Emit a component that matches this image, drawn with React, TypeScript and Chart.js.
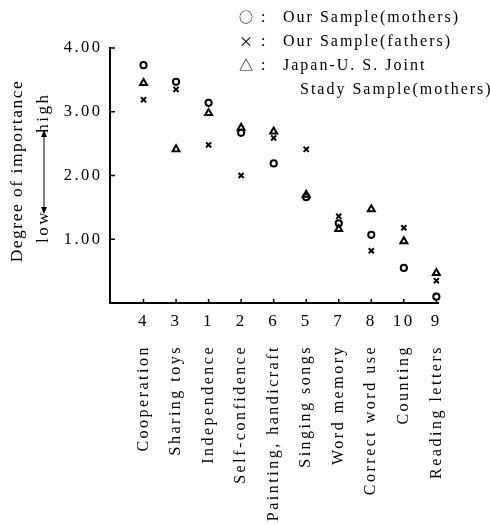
import React, { useEffect, useRef } from 'react';
import { Chart, registerables } from 'chart.js';

Chart.register(...registerables);

const codes = ['4', '3', '1', '2', '6', '5', '7', '8', '10', '9'];
const items = [
  'Cooperation',
  'Sharing toys',
  'Independence',
  'Self-confidence',
  'Painting, handicraft',
  'Singing songs',
  'Word memory',
  'Correct word use',
  'Counting',
  'Reading letters',
];
const mothers = [3.73, 3.47, 3.14, 2.67, 2.19, 1.66, 1.25, 1.07, 0.55, 0.1];
const fathers = [3.19, 3.35, 2.48, 2.0, 2.59, 2.41, 1.36, 0.82, 1.18, 0.35];
const joint = [3.45, 2.41, 2.98, 2.75, 2.69, 1.7, 1.16, 1.47, 0.97, 0.47];
const yTicks = [1, 2, 3, 4];
const legendSymbols = ['○', '×', '△'];
const legendTexts = [
  ['Our Sample(mothers)'],
  ['Our Sample(fathers)'],
  ['Japan-U. S. Joint', 'Stady Sample(mothers)'],
];
const yTitle = 'Degree of importance';
const lowLabel = 'low';
const highLabel = 'high';

const SERIF = '"Liberation Serif", "Times New Roman", serif';
const SPACING = '2.5px';

const spacingPlugin = {
  id: 'spacing',
  beforeLayout(chart: any) {
    chart.ctx.letterSpacing = SPACING;
  },
  beforeDraw(chart: any) {
    chart.ctx.letterSpacing = SPACING;
  },
};

const inwardTicks = {
  id: 'inwardTicks',
  afterDraw(chart: any) {
    const { ctx, chartArea, scales } = chart;
    ctx.save();
    ctx.strokeStyle = '#000';
    ctx.lineWidth = 1.5;
    ctx.beginPath();
    scales.y.ticks.forEach((t: any) => {
      const y = scales.y.getPixelForValue(t.value);
      ctx.moveTo(chartArea.left, y);
      ctx.lineTo(chartArea.left + 5, y);
    });
    scales.x.ticks.forEach((t: any) => {
      const x = scales.x.getPixelForValue(t.value);
      ctx.moveTo(x, chartArea.bottom);
      ctx.lineTo(x, chartArea.bottom - 4);
    });
    ctx.stroke();
    ctx.restore();
  },
};

const textPlugin = {
  id: 'texts',
  afterDraw(chart: any) {
    const ctx = chart.ctx;
    ctx.save();
    ctx.fillStyle = '#000';
    ctx.strokeStyle = '#000';
    ctx.textBaseline = 'alphabetic';
    legendSymbols.forEach((s, i) => {
      const base = 22 + i * 24;
      ctx.letterSpacing = '0px';
      ctx.font = `14px "Noto Sans CJK JP"`;
      ctx.textAlign = 'center';
      ctx.fillText(s, 246, base);
      ctx.font = `16px ${SERIF}`;
      ctx.textAlign = 'left';
      ctx.fillText(':', 261, base);
      ctx.letterSpacing = '2px';
      legendTexts[i].forEach((t, j) => {
        ctx.fillText(t, j === 0 ? 283 : 300, base + j * 24);
      });
    });

    // y title
    ctx.letterSpacing = '1.5px';
    ctx.save();
    ctx.translate(17, 171);
    ctx.rotate(-Math.PI / 2);
    ctx.font = `17.5px ${SERIF}`;
    ctx.textAlign = 'center';
    ctx.textBaseline = 'middle';
    ctx.fillText(yTitle, 0, 0);
    ctx.restore();

    ctx.letterSpacing = SPACING;
    ctx.save();
    ctx.translate(44, 0);
    ctx.rotate(-Math.PI / 2);
    ctx.font = `17px ${SERIF}`;
    ctx.textBaseline = 'middle';
    ctx.textAlign = 'left';
    ctx.fillText(lowLabel, -243, 0);
    ctx.textAlign = 'right';
    ctx.fillText(highLabel, -92.5, 0);
    ctx.lineWidth = 1;
    ctx.beginPath();
    ctx.moveTo(-212, 0);
    ctx.lineTo(-132, 0);
    ctx.stroke();
    ctx.beginPath();
    ctx.moveTo(-130, 0);
    ctx.lineTo(-137, -3);
    ctx.lineTo(-137, 3);
    ctx.closePath();
    ctx.fill();
    ctx.beginPath();
    ctx.moveTo(-214, 0);
    ctx.lineTo(-207, -3);
    ctx.lineTo(-207, 3);
    ctx.closePath();
    ctx.fill();
    ctx.restore();

    ctx.restore();
  },
};

const idx = codes.map((_, i) => i);
const X_MIN = -1.03;
const X_MAX = 9.05;

export default function App() {
  const ref = useRef<HTMLCanvasElement>(null);
  useEffect(() => {
    if (!ref.current) return;
    const pt = (arr: number[]) => arr.map((y, i) => ({ x: i, y }));
    const chart = new Chart(ref.current, {
      type: 'scatter',
      data: {
        datasets: [
          {
            label: 'Our Sample(mothers)',
            data: pt(mothers),
            pointStyle: 'circle',
            radius: 3.1,
            borderWidth: 2,
            borderColor: '#000',
            backgroundColor: 'rgba(0,0,0,0)',
            clip: false,
          } as any,
          {
            label: 'Our Sample(fathers)',
            data: pt(fathers),
            pointStyle: 'crossRot',
            radius: 3.6,
            borderWidth: 2,
            borderColor: '#000',
            backgroundColor: 'rgba(0,0,0,0)',
            clip: false,
          },
          {
            label: 'Japan-U. S. Joint Stady Sample(mothers)',
            data: pt(joint),
            pointStyle: 'triangle',
            radius: 4,
            borderWidth: 2,
            borderColor: '#000',
            backgroundColor: 'rgba(0,0,0,0)',
            clip: false,
          },
        ],
      },
      options: {
        responsive: false,
        animation: false,
        layout: { padding: { top: 48, right: 52, left: 0, bottom: 0 } },
        plugins: { legend: { display: false }, tooltip: { enabled: false } },
        scales: {
          x: {
            type: 'linear',
            position: 'bottom',
            min: X_MIN,
            max: X_MAX,
            weight: 0,
            afterBuildTicks: (s: any) => {
              s.ticks = idx.map((v) => ({ value: v }));
            },
            afterFit: (s: any) => {
              s.height = 30;
            },
            grid: { display: false, drawTicks: false },
            border: { display: true, color: '#000', width: 2 },
            ticks: {
              autoSkip: false,
              maxRotation: 0,
              minRotation: 0,
              padding: 8,
              color: '#000',
              font: { family: SERIF, size: 17 },
              callback: (v: any) => codes[v] ?? '',
            },
          },
          x2: {
            type: 'linear',
            position: 'bottom',
            min: X_MIN,
            max: X_MAX,
            weight: 1,
            afterBuildTicks: (s: any) => {
              s.ticks = idx.map((v) => ({ value: v }));
            },
            afterFit: (s: any) => {
              s.height = 192;
            },
            grid: { display: false, drawTicks: false },
            border: { display: false },
            ticks: {
              autoSkip: false,
              minRotation: 90,
              maxRotation: 90,
              padding: 12,
              color: '#000',
              font: { family: SERIF, size: 16 },
              callback: (v: any) => items[v] ?? '',
            },
          },
          y: {
            min: 0,
            max: 4,
            afterBuildTicks: (s: any) => {
              s.ticks = yTicks.map((v) => ({ value: v }));
            },
            afterFit: (s: any) => {
              s.width = 110;
            },
            grid: { display: false, drawTicks: false },
            border: { display: true, color: '#000', width: 2 },
            ticks: {
              padding: 7.5,
              color: '#000',
              font: { family: SERIF, size: 16.5 },
              callback: (v: any) => Number(v).toFixed(2),
            },
          },
        },
      } as any,
      plugins: [spacingPlugin, inwardTicks, textPlugin],
    });
    return () => chart.destroy();
  }, []);
  return (
    <div style={{ position: 'absolute', left: 0, top: 0, width: 490, height: 525, background: '#fff' }}>
      <canvas ref={ref} width={490} height={525} style={{ display: 'block' }} />
    </div>
  );
}
